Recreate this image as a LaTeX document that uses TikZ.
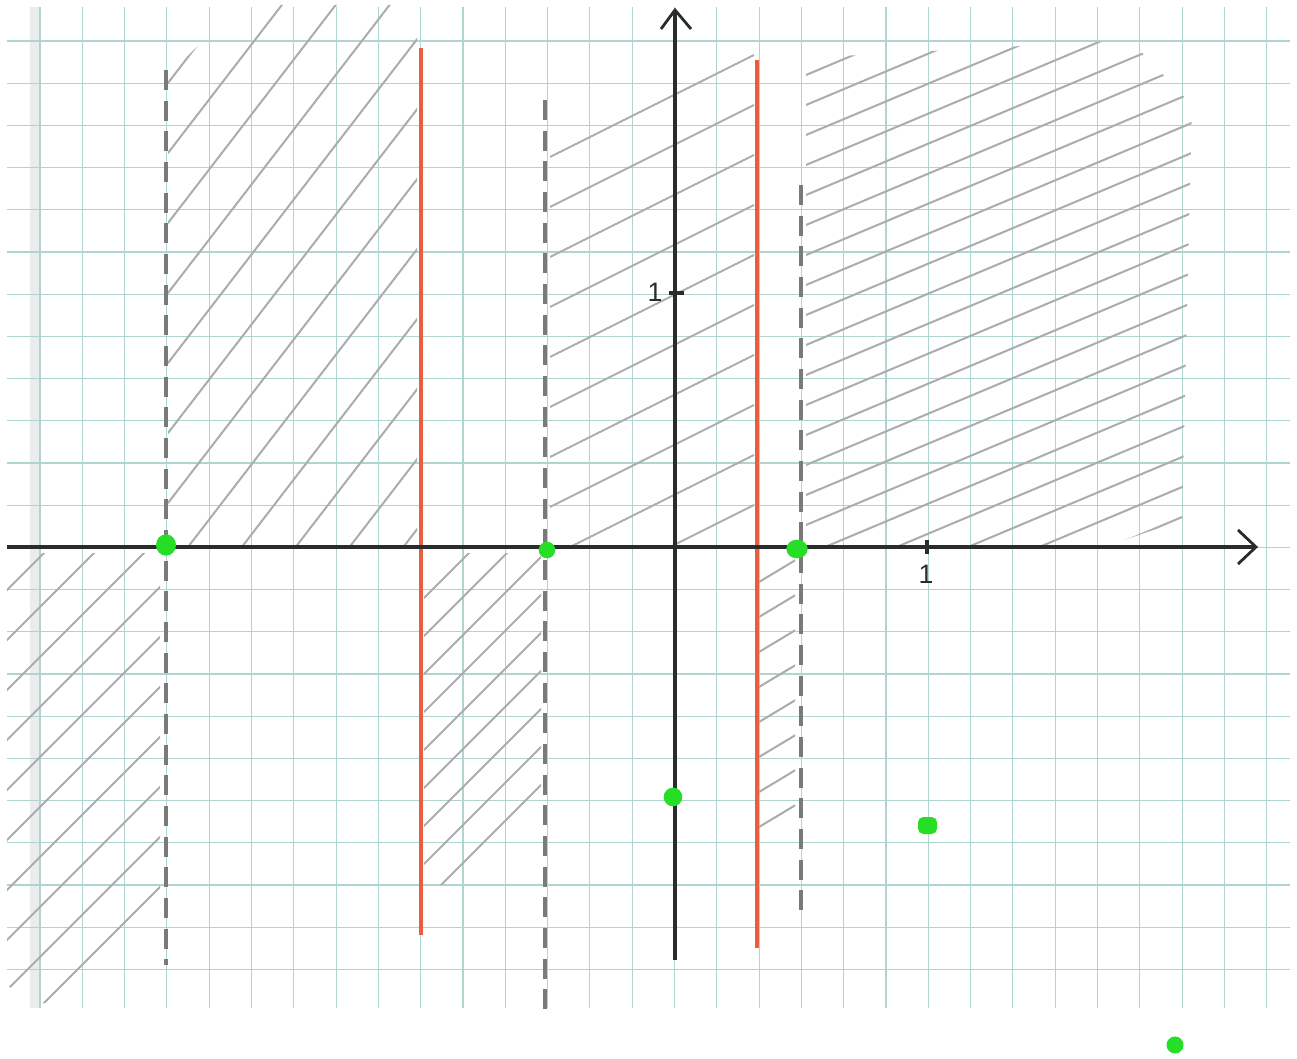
\documentclass[tikz,border=0pt]{standalone}
\usepackage{fontspec}
\setmainfont{Liberation Sans}
\definecolor{gridc}{RGB}{176,212,207}
\definecolor{hatchc}{RGB}{172,172,172}
\definecolor{dashc}{RGB}{122,122,122}
\definecolor{redc}{RGB}{232,94,62}
\definecolor{axisc}{RGB}{40,44,44}
\definecolor{dotgreen}{RGB}{38,222,38}
\definecolor{stripc}{RGB}{236,236,236}
\tikzset{
  gridline/.style={draw=gridc, line width=0.8pt},
  hatch/.style={draw=hatchc, line width=1.5pt, line cap=round},
  dashedv/.style={draw=dashc, line width=2.3pt, dash pattern=on 15pt off 8pt},
  redv/.style={draw=redc, line width=2.3pt},
  axisline/.style={draw=axisc, line width=2.3pt},
  arrowline/.style={draw=axisc, line width=2.1pt, line join=miter},
  dot/.style={fill=dotgreen, draw=none},
  lab/.style={font=\fontsize{20}{20}\selectfont, text=axisc, inner sep=0pt}
}
\begin{document}
\begin{tikzpicture}[x=0.75pt, y=-0.75pt]
\useasboundingbox (0,0) rectangle (1297,1059);
\fill[white] (0,0) rectangle (1297,1059);
% paper margin strip
\fill[stripc] (30,7) rectangle (40,1008);
% grid
\foreach \k in {0,...,29} \draw[gridline] ({40+\k*42.3},7) -- ({40+\k*42.3},1008);
\foreach \k in {0,...,22} \draw[gridline] (7,{41+\k*42.2}) -- (1290,{41+\k*42.2});

% hatch region A: -2<x<-1, y>0
\begin{scope}
\clip (168,545) -- (168,75) -- (240,5) -- (417,5) -- (417,545) -- cycle;
\foreach \c in {83,153,...,853} \draw[hatch] (168,\c) -- ++(400,-520);
\end{scope}
% hatch region B: x<-2, y<0
\begin{scope}
\clip (7,553) -- (160,553) -- (160,915) -- (78,1003) -- (30,1003) -- (7,985) -- cycle;
\foreach \c in {437,487,...,937} \draw[hatch] (0,\c+160) -- ++(220,-220);
\end{scope}
% hatch region C: -1<x<-1/2, y<0
\begin{scope}
\clip (424,553) -- (541,553) -- (541,795) -- (462,885) -- (424,885) -- cycle;
\foreach \c in {598,636,...,902} \draw[hatch] (424,\c) -- ++(200,-200);
\end{scope}
% hatch region D: -1/2<x<1/3, y>0
\begin{scope}
\clip (550,545) -- (550,150) -- (754,47) -- (754,545) -- cycle;
\foreach \c in {157,207,...,657} \draw[hatch] (550,\c) -- ++(260,-130);
\end{scope}
% hatch region E: 1/3<x<1/2, y<0
\begin{scope}
\clip (759,553) -- (795,553) -- (795,845) -- (759,845) -- cycle;
\foreach \c in {582,617,...,827} \draw[hatch] (759,\c) -- ++(50,-30);
\end{scope}
% hatch region F: x>1/2, y>0
\begin{scope}
\clip (806,545) -- (806,58) -- (1130,40) -- (1192,105) -- (1182,520) -- (1110,545) -- cycle;
\foreach \c in {75,105,...,675} \draw[hatch] (806,\c) -- ++(500,-210);
\end{scope}

% dashed boundaries
\draw[dashedv] (166,70) -- (166,965);
\draw[dashedv] (545,100) -- (545,1010);
\draw[dashedv] (801,185) -- (801,910);
% red boundaries
\draw[redv] (421,48) -- (421,935);
\draw[redv] (757,60) -- (757,948);

% axes
\coordinate (xs) at (7,547);
\coordinate (xe) at (1256,547);
\coordinate (ys) at (675,960);
\coordinate (ye) at (675,10);
\draw[axisline] (xs) -- (xe);
\draw[axisline] (ys) -- (ye);
\draw[arrowline] (1238,530) -- (xe) -- (1238,564);
\draw[arrowline] (661,29) -- (ye) -- (691,29);
% ticks
\coordinate (ty) at (675,293);
\coordinate (tx) at (927,547);
\draw[axisline] ([xshift=-4.5pt]ty) -- ([xshift=6.5pt]ty);
\draw[axisline] ([yshift=5pt]tx) -- ([yshift=-5.5pt]tx);
\node[lab] (ylab) at (655,292) {1};
\node[lab] (xlab) at (926,574) {1};

% green points
\fill[dot] (166,545) ellipse (7.5pt and 8pt);
\fill[dot] (547,550) circle (6.2pt);
\fill[dot] (797,549) ellipse (8pt and 7pt);
\fill[dot] (673,797) circle (7pt);
\fill[dot, rounded corners=4pt] (918,817) rectangle (937,834);
\fill[dot] (1175,1045) circle (6.4pt);
\end{tikzpicture}
\end{document}
